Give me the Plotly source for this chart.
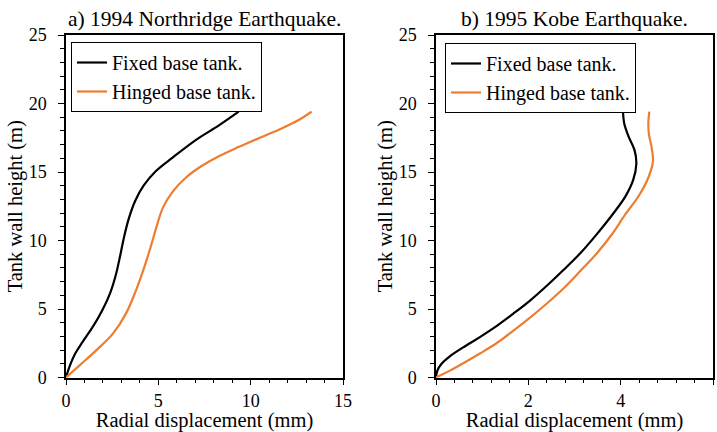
import plotly.graph_objects as go

# Left: 1994 Northridge
nr_fixed_x = [0, 0.22, 0.5, 0.9, 1.5, 2.0, 2.4, 2.7, 2.95, 3.15, 3.4, 3.75, 4.2, 4.87, 5.77, 7.1, 8.28, 9.35]
nr_fixed_y = [0, 0.9, 1.75, 2.6, 3.8, 5.0, 6.2, 7.5, 9.0, 10.3, 11.6, 12.9, 14.0, 15.07, 16.05, 17.4, 18.4, 19.4]
nr_hinged_x = [0, 0.75, 1.65, 2.54, 3.26, 3.8, 4.25, 4.6, 4.9, 5.25, 5.8, 6.5, 7.3, 8.2, 9.3, 10.5, 11.7, 12.6, 13.3]
nr_hinged_y = [0, 0.9, 2.0, 3.2, 4.7, 6.4, 8.1, 9.6, 11.0, 12.4, 13.6, 14.6, 15.4, 16.1, 16.8, 17.5, 18.2, 18.8, 19.4]

# Right: 1995 Kobe
kb_fixed_x = [0, 0.03, 0.12, 0.3, 0.59, 0.95, 1.31, 1.67, 2.03, 2.4, 2.76, 3.12, 3.48, 3.84, 4.1, 4.27, 4.34, 4.3, 4.17, 4.08, 4.05]
kb_fixed_y = [0, 0.5, 1.0, 1.55, 2.2, 2.95, 3.75, 4.65, 5.6, 6.7, 7.85, 9.05, 10.45, 11.97, 13.2, 14.4, 15.6, 16.6, 17.6, 18.5, 19.4]
kb_hinged_x = [0, 0.3, 0.59, 0.95, 1.31, 1.67, 2.03, 2.4, 2.76, 3.12, 3.48, 3.8, 4.1, 4.4, 4.6, 4.7, 4.67, 4.61, 4.6, 4.62]
kb_hinged_y = [0, 0.5, 1.04, 1.75, 2.5, 3.4, 4.35, 5.4, 6.5, 7.75, 9.05, 10.4, 11.9, 13.3, 14.6, 15.8, 16.8, 17.8, 18.65, 19.4]

series_names = ["Fixed base tank.", "Hinged base tank."]
colors = ["#000000", "#ED7D31"]
titles = ["a) 1994 Northridge Earthquake.", "b) 1995 Kobe Earthquake."]
x_label = "Radial displacement (mm)"
y_label = "Tank wall height (m)"

FONT = "Liberation Serif"

fig = go.Figure()
fig.add_trace(go.Scatter(x=nr_fixed_x, y=nr_fixed_y, mode="lines", name=series_names[0],
                         line=dict(color=colors[0], width=2.2, shape="spline"),
                         xaxis="x", yaxis="y", legend="legend"))
fig.add_trace(go.Scatter(x=nr_hinged_x, y=nr_hinged_y, mode="lines", name=series_names[1],
                         line=dict(color=colors[1], width=2.2, shape="spline"),
                         xaxis="x", yaxis="y", legend="legend"))
fig.add_trace(go.Scatter(x=kb_fixed_x, y=kb_fixed_y, mode="lines", name=series_names[0],
                         line=dict(color=colors[0], width=2.2, shape="spline"),
                         xaxis="x2", yaxis="y2", legend="legend2"))
fig.add_trace(go.Scatter(x=kb_hinged_x, y=kb_hinged_y, mode="lines", name=series_names[1],
                         line=dict(color=colors[1], width=2.2, shape="spline"),
                         xaxis="x2", yaxis="y2", legend="legend2"))

W, H = 717, 432
def fx(px):
    return px / W
def fy(py):
    return (H - py) / H

axis_common = dict(showline=True, linecolor="black", linewidth=1.5, mirror=True,
                   ticks="outside", ticklen=6, tickwidth=1.2, tickcolor="black",
                   showgrid=False, zeroline=False, automargin=False,
                   tickfont=dict(family=FONT, size=18, color="black"),
                   title_font=dict(family=FONT, size=20.5, color="black"))

ydom = [fy(377.5), fy(35)]

fig.update_layout(
    width=W, height=H,
    margin=dict(l=0, r=0, t=0, b=0, autoexpand=False),
    paper_bgcolor="white", plot_bgcolor="white",
    font=dict(family=FONT, color="black"),
    xaxis=dict(domain=[fx(66), fx(343)], range=[0, 15], dtick=5, anchor="y",
               minor=dict(ticks="outside", dtick=1, ticklen=4, tickcolor="black"),
               ticklabelstandoff=0,
               title=dict(text=x_label, standoff=5), **axis_common),
    yaxis=dict(domain=ydom, range=[0, 25], dtick=5, anchor="x",
               minor=dict(ticks="outside", dtick=1, ticklen=4, tickcolor="black"),
               ticklabelstandoff=8,
               title=dict(text=y_label, standoff=0), **axis_common),
    xaxis2=dict(domain=[fx(436), fx(713)], range=[0, 6], dtick=2, anchor="y2",
                minor=dict(ticks="outside", dtick=0.4, ticklen=4, tickcolor="black"),
                ticklabelstandoff=0,
                title=dict(text=x_label, standoff=5), **axis_common),
    yaxis2=dict(domain=ydom, range=[0, 25], dtick=5, anchor="x2",
                minor=dict(ticks="outside", dtick=1, ticklen=4, tickcolor="black"),
                ticklabelstandoff=8,
                title=dict(text=y_label, standoff=0), **axis_common),
    legend=dict(x=fx(71), y=fy(42), xanchor="left", yanchor="top",
                bordercolor="black", borderwidth=1, bgcolor="white",
                font=dict(family=FONT, size=20, color="black"),
                tracegroupgap=0, itemwidth=30),
    legend2=dict(x=fx(445), y=fy(43), xanchor="left", yanchor="top",
                 bordercolor="black", borderwidth=1, bgcolor="white",
                 font=dict(family=FONT, size=20, color="black"),
                 tracegroupgap=0, itemwidth=30),
    showlegend=True,
    annotations=[
        dict(text=titles[0], x=(fx(66) + fx(343)) / 2, y=fy(19), xref="paper", yref="paper",
             showarrow=False, font=dict(family=FONT, size=21.5, color="black"),
             xanchor="center", yanchor="middle"),
        dict(text=titles[1], x=(fx(436) + fx(713)) / 2, y=fy(19), xref="paper", yref="paper",
             showarrow=False, font=dict(family=FONT, size=21.5, color="black"),
             xanchor="center", yanchor="middle"),
    ],
)

fig.write_html("out.html")
